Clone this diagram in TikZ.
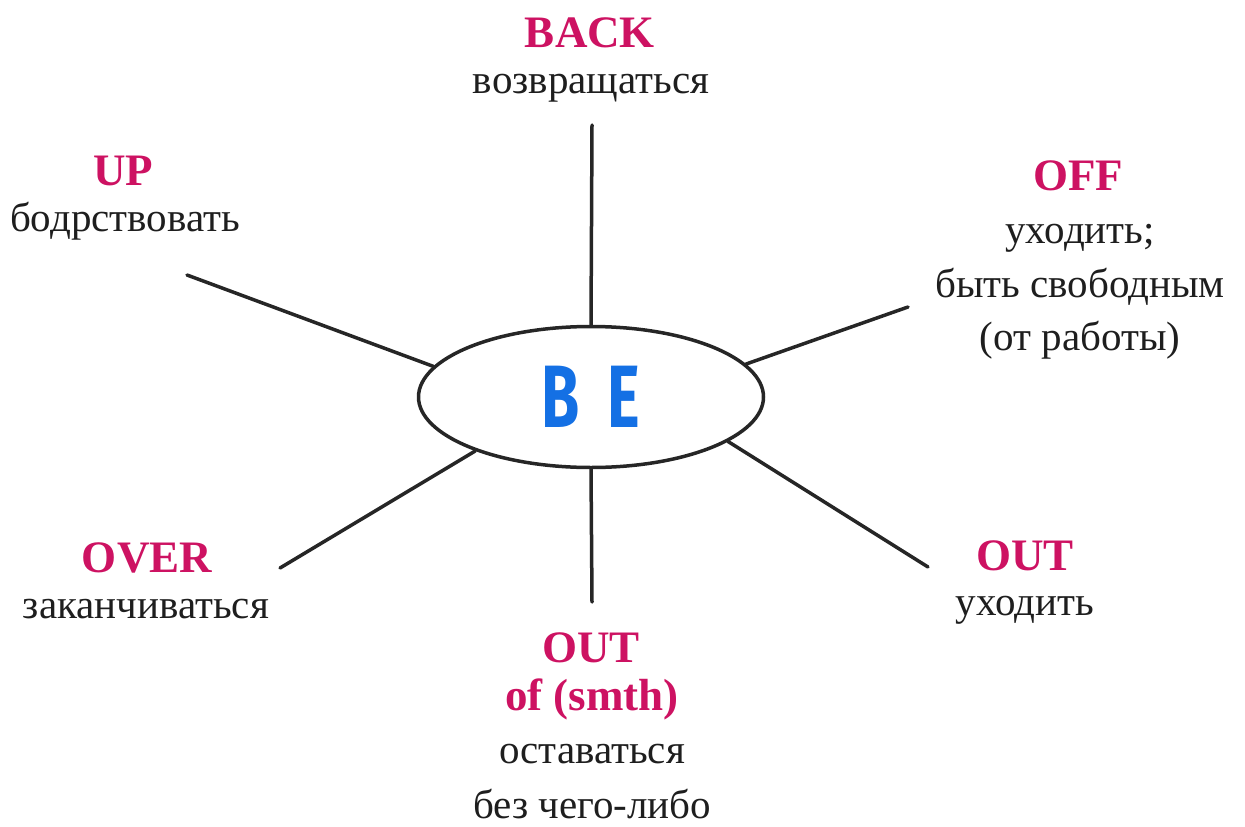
\documentclass[tikz,border=0pt]{standalone}
\usepackage{fontspec}
\setmainfont{Liberation Serif}
\newfontfamily\befont{Fira Sans}
\usetikzlibrary{shapes.geometric}
\definecolor{kw}{RGB}{205,18,98}
\definecolor{beblue}{RGB}{20,112,228}
\definecolor{ru}{RGB}{30,30,30}
\tikzset{
  kwtext/.style={anchor=base, inner sep=0pt, text=kw, font=\fontsize{45}{50}\selectfont\bfseries},
  rutext/.style={anchor=base, inner sep=0pt, text=ru, font=\fontsize{41}{50}\selectfont},
  spoke/.style={line width=3.5pt, draw=black!85, line cap=round},
}
\begin{document}
\begin{tikzpicture}[x=1pt,y=-1pt]
\useasboundingbox (0,0) rectangle (1245,827);
\node[ellipse, draw=black!85, line width=3.5pt, minimum width=345pt, minimum height=141pt, inner sep=0pt] (be) at (591,397) {};
\node[text=beblue, inner sep=0pt] (betext) at (591,397) {\scalebox{0.72}[1.03]{\befont\fontsize{86}{90}\selectfont\bfseries B\hspace{0.45em}E}};

% BACK
\node[kwtext] (back) at (590,47) {BACK};
\node[rutext] (backru) at (591,93) {возвращаться};
\coordinate (backend) at (592,125);
% UP
\node[kwtext] (up) at (123,185) {UP};
\node[rutext] (upru) at (125,231) {бодрствовать};
\coordinate (upend) at (187,275);
% OFF
\node[kwtext] (off) at (1078,190) {OFF};
\node[rutext] (offru1) at (1080,243) {уходить;};
\node[rutext] (offru2) at (1080,297) {быть свободным};
\node[rutext] (offru3) at (1080,350) {(от работы)};
\coordinate (offend) at (908,307);
% OVER
\node[kwtext] (over) at (147,572) {OVER};
\node[rutext] (overru) at (146,618) {заканчиваться};
\coordinate (overend) at (280,568);
% OUT right
\node[kwtext] (outr) at (1025,570) {OUT};
\node[rutext] (outrru) at (1025,615) {уходить};
\coordinate (outrend) at (928,567);
% OUT of (smth)
\node[kwtext] (outb) at (591,662) {OUT};
\node[kwtext] (outb2) at (592,710) {of (smth)};
\node[rutext] (outbru1) at (592,763) {оставаться};
\node[rutext] (outbru2) at (592,818) {без чего-либо};
\coordinate (outbend) at (592,602);

% spokes
\draw[spoke] (backend) -- (be.north);
\draw[spoke] (be.south) -- (outbend);
\draw[spoke] (upend) -- (be.169);
\draw[spoke] (offend) -- (be.12.5);
\draw[spoke] (overend) -- (be.205);
\draw[spoke] (outrend) -- (be.342.4);
\end{tikzpicture}
\end{document}
